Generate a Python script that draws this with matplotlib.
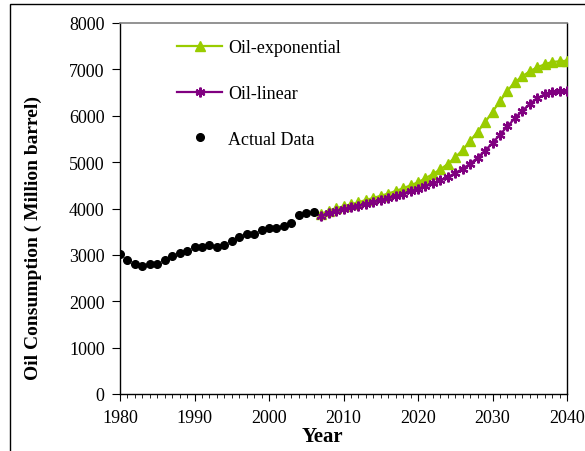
import matplotlib
matplotlib.use("Agg")
import matplotlib.pyplot as plt
from matplotlib.patches import Rectangle
from matplotlib.ticker import MultipleLocator

plt.rcParams['font.family'] = ['Liberation Serif', 'DejaVu Serif']

# actual data 1980-2006
actual_years = list(range(1980, 2007))
actual_vals = [3022, 2891, 2812, 2768, 2812, 2812, 2891, 2971, 3051, 3094,
               3174, 3174, 3210, 3167, 3217, 3290, 3377, 3449, 3449, 3536,
               3572, 3572, 3616, 3696, 3855, 3899, 3935]

# projections 2007-2040
proj_years = list(range(2007, 2041))
exp_vals = [3880, 3953, 4004, 4047, 4090, 4133, 4183, 4226, 4276, 4320,
            4377, 4435, 4500, 4565, 4651, 4744, 4845, 4960, 5104, 5262,
            5456, 5657, 5859, 6088, 6311, 6541, 6721, 6850, 6958, 7045,
            7109, 7160, 7174, 7188]
lin_vals = [3846, 3896, 3946, 3989, 4025, 4060, 4097, 4133, 4176, 4220,
            4270, 4320, 4370, 4427, 4485, 4543, 4607, 4679, 4765, 4858,
            4966, 5095, 5246, 5412, 5592, 5772, 5944, 6110, 6253, 6376,
            6462, 6505, 6527, 6541]

fig = plt.figure(figsize=(5.85, 4.52), dpi=100)
ax = fig.add_axes([120/585, 57/452, 447/585, 371/452])

green = '#99CC00'
purple = '#800080'

ax.plot(proj_years, exp_vals, color=green, lw=1.6, marker='^', ms=6.5,
        label='Oil-exponential', zorder=3)
ax.plot(proj_years, lin_vals, color=purple, lw=1.6, marker=(6, 2, 0), ms=7,
        mew=1.6, label='Oil-linear', zorder=4)
ax.plot(actual_years, actual_vals, 'o', color='black', ms=5.5,
        label='Actual Data', zorder=5)

ax.set_xlim(1980, 2040)
ax.set_ylim(0, 8000)
ax.xaxis.set_major_locator(MultipleLocator(10))
ax.xaxis.set_minor_locator(MultipleLocator(1))
ax.yaxis.set_major_locator(MultipleLocator(1000))
ax.tick_params(axis='x', which='major', direction='out', length=5, labelsize=13, pad=6)
ax.tick_params(axis='x', which='minor', direction='out', length=3)
ax.tick_params(axis='y', direction='out', length=6, labelsize=13, pad=5)
ax.spines['top'].set_color('#808080')
ax.spines['top'].set_linewidth(1.2)
for s in ['left', 'right', 'bottom']:
    ax.spines[s].set_linewidth(1.0)

ax.set_xlabel('Year', fontsize=15, fontweight='bold')
ax.xaxis.set_label_coords((322 - 120) / 447, -0.085)
ax.set_ylabel('Oil Consumption ( Million barrel)', fontsize=14,
              fontweight='bold')
ax.yaxis.set_label_coords(-(120 - 42) / 447, (395 - 238) / 371)

ax.legend(loc='upper left', bbox_to_anchor=((177 - 120) / 447, (395 - 40) / 371),
          frameon=False, fontsize=13, handlelength=2.5, labelspacing=1.6,
          handletextpad=0.35, borderpad=0, borderaxespad=0)

# outer frame of the original image
fig.add_artist(Rectangle((10/585, -0.1), 1.2, 1 - 5/452 + 0.1,
                         transform=fig.transFigure, fill=False, lw=1.0,
                         edgecolor='black'))

fig.savefig('out.png', dpi=100)
